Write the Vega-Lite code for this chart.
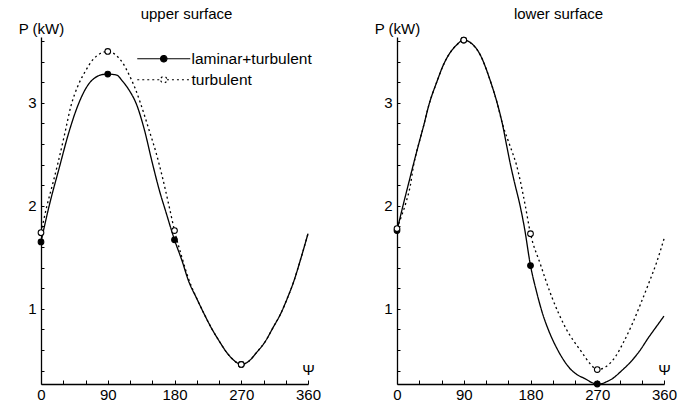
{
  "$schema": "https://vega.github.io/schema/vega-lite/v6.json",
  "background": "white",
  "padding": {"left": 18, "top": 7, "right": 5, "bottom": 5},
  "config": {
    "font": "Liberation Sans",
    "view": {"stroke": null},
    "concat": {"spacing": 53},
    "axis": {
      "domainColor": "black", "domainWidth": 1.3, "tickColor": "black", "tickWidth": 1,
      "labelColor": "black", "labelFontSize": 15, "labelFont": "Liberation Sans",
      "titleColor": "black", "titleFontSize": 15, "titleFontWeight": "normal", "titleFont": "Liberation Sans",
      "grid": false, "labelOverlap": false, "labelFlush": false
    },
    "title": {"fontSize": 15, "fontWeight": "normal", "font": "Liberation Sans", "color": "black", "anchor": "middle"}
  },
  "datasets": {
    "upper_curve": [
      {"psi": 0, "P": 1.65, "series": "laminar+turbulent"},
      {"psi": 11, "P": 2.0, "series": "laminar+turbulent"},
      {"psi": 25, "P": 2.38, "series": "laminar+turbulent"},
      {"psi": 37, "P": 2.7, "series": "laminar+turbulent"},
      {"psi": 50, "P": 2.98, "series": "laminar+turbulent"},
      {"psi": 63, "P": 3.17, "series": "laminar+turbulent"},
      {"psi": 74, "P": 3.25, "series": "laminar+turbulent"},
      {"psi": 80, "P": 3.27, "series": "laminar+turbulent"},
      {"psi": 90, "P": 3.28, "series": "laminar+turbulent"},
      {"psi": 102, "P": 3.27, "series": "laminar+turbulent"},
      {"psi": 110, "P": 3.21, "series": "laminar+turbulent"},
      {"psi": 120, "P": 3.11, "series": "laminar+turbulent"},
      {"psi": 128, "P": 3.0, "series": "laminar+turbulent"},
      {"psi": 139, "P": 2.75, "series": "laminar+turbulent"},
      {"psi": 150, "P": 2.42, "series": "laminar+turbulent"},
      {"psi": 160, "P": 2.14, "series": "laminar+turbulent"},
      {"psi": 168, "P": 1.95, "series": "laminar+turbulent"},
      {"psi": 180, "P": 1.67, "series": "laminar+turbulent"},
      {"psi": 190, "P": 1.47, "series": "laminar+turbulent"},
      {"psi": 199, "P": 1.27, "series": "laminar+turbulent"},
      {"psi": 210, "P": 1.1, "series": "laminar+turbulent"},
      {"psi": 220, "P": 0.95, "series": "laminar+turbulent"},
      {"psi": 230, "P": 0.81, "series": "laminar+turbulent"},
      {"psi": 240, "P": 0.69, "series": "laminar+turbulent"},
      {"psi": 250, "P": 0.58, "series": "laminar+turbulent"},
      {"psi": 260, "P": 0.5, "series": "laminar+turbulent"},
      {"psi": 270, "P": 0.46, "series": "laminar+turbulent"},
      {"psi": 280, "P": 0.49, "series": "laminar+turbulent"},
      {"psi": 290, "P": 0.57, "series": "laminar+turbulent"},
      {"psi": 303, "P": 0.69, "series": "laminar+turbulent"},
      {"psi": 313, "P": 0.82, "series": "laminar+turbulent"},
      {"psi": 323, "P": 0.95, "series": "laminar+turbulent"},
      {"psi": 332, "P": 1.1, "series": "laminar+turbulent"},
      {"psi": 341, "P": 1.27, "series": "laminar+turbulent"},
      {"psi": 350, "P": 1.48, "series": "laminar+turbulent"},
      {"psi": 360, "P": 1.73, "series": "laminar+turbulent"},
      {"psi": 0, "P": 1.74, "series": "turbulent"},
      {"psi": 8, "P": 2.0, "series": "turbulent"},
      {"psi": 16, "P": 2.22, "series": "turbulent"},
      {"psi": 23, "P": 2.42, "series": "turbulent"},
      {"psi": 32, "P": 2.7, "series": "turbulent"},
      {"psi": 40, "P": 2.96, "series": "turbulent"},
      {"psi": 50, "P": 3.17, "series": "turbulent"},
      {"psi": 60, "P": 3.31, "series": "turbulent"},
      {"psi": 70, "P": 3.42, "series": "turbulent"},
      {"psi": 80, "P": 3.48, "series": "turbulent"},
      {"psi": 90, "P": 3.5, "series": "turbulent"},
      {"psi": 100, "P": 3.47, "series": "turbulent"},
      {"psi": 110, "P": 3.39, "series": "turbulent"},
      {"psi": 119, "P": 3.27, "series": "turbulent"},
      {"psi": 127, "P": 3.14, "series": "turbulent"},
      {"psi": 134, "P": 3.0, "series": "turbulent"},
      {"psi": 146, "P": 2.73, "series": "turbulent"},
      {"psi": 155, "P": 2.52, "series": "turbulent"},
      {"psi": 163, "P": 2.3, "series": "turbulent"},
      {"psi": 172, "P": 2.02, "series": "turbulent"},
      {"psi": 180, "P": 1.76, "series": "turbulent"},
      {"psi": 190, "P": 1.5, "series": "turbulent"},
      {"psi": 199, "P": 1.29, "series": "turbulent"},
      {"psi": 210, "P": 1.1, "series": "turbulent"},
      {"psi": 220, "P": 0.95, "series": "turbulent"},
      {"psi": 230, "P": 0.81, "series": "turbulent"},
      {"psi": 240, "P": 0.69, "series": "turbulent"},
      {"psi": 250, "P": 0.58, "series": "turbulent"},
      {"psi": 260, "P": 0.5, "series": "turbulent"},
      {"psi": 270, "P": 0.46, "series": "turbulent"},
      {"psi": 280, "P": 0.49, "series": "turbulent"},
      {"psi": 290, "P": 0.57, "series": "turbulent"},
      {"psi": 303, "P": 0.69, "series": "turbulent"},
      {"psi": 313, "P": 0.82, "series": "turbulent"},
      {"psi": 323, "P": 0.95, "series": "turbulent"},
      {"psi": 332, "P": 1.1, "series": "turbulent"},
      {"psi": 341, "P": 1.27, "series": "turbulent"},
      {"psi": 350, "P": 1.48, "series": "turbulent"},
      {"psi": 360, "P": 1.73, "series": "turbulent"}
    ],
    "upper_pts": [
      {"psi": 0, "P": 1.65, "series": "laminar+turbulent"},
      {"psi": 90, "P": 3.28, "series": "laminar+turbulent"},
      {"psi": 180, "P": 1.67, "series": "laminar+turbulent"},
      {"psi": 270, "P": 0.46, "series": "laminar+turbulent"},
      {"psi": 0, "P": 1.74, "series": "turbulent"},
      {"psi": 90, "P": 3.5, "series": "turbulent"},
      {"psi": 180, "P": 1.76, "series": "turbulent"},
      {"psi": 270, "P": 0.46, "series": "turbulent"}
    ],
    "lower_curve": [
      {"psi": 0, "P": 1.76, "series": "laminar+turbulent"},
      {"psi": 8, "P": 2.0, "series": "laminar+turbulent"},
      {"psi": 15, "P": 2.2, "series": "laminar+turbulent"},
      {"psi": 22, "P": 2.4, "series": "laminar+turbulent"},
      {"psi": 30, "P": 2.62, "series": "laminar+turbulent"},
      {"psi": 36, "P": 2.78, "series": "laminar+turbulent"},
      {"psi": 43, "P": 2.98, "series": "laminar+turbulent"},
      {"psi": 54, "P": 3.21, "series": "laminar+turbulent"},
      {"psi": 62, "P": 3.36, "series": "laminar+turbulent"},
      {"psi": 70, "P": 3.47, "series": "laminar+turbulent"},
      {"psi": 80, "P": 3.56, "series": "laminar+turbulent"},
      {"psi": 90, "P": 3.61, "series": "laminar+turbulent"},
      {"psi": 100, "P": 3.58, "series": "laminar+turbulent"},
      {"psi": 112, "P": 3.47, "series": "laminar+turbulent"},
      {"psi": 126, "P": 3.21, "series": "laminar+turbulent"},
      {"psi": 135, "P": 3.0, "series": "laminar+turbulent"},
      {"psi": 142, "P": 2.8, "series": "laminar+turbulent"},
      {"psi": 148, "P": 2.58, "series": "laminar+turbulent"},
      {"psi": 153, "P": 2.4, "series": "laminar+turbulent"},
      {"psi": 158, "P": 2.24, "series": "laminar+turbulent"},
      {"psi": 166, "P": 2.0, "series": "laminar+turbulent"},
      {"psi": 172, "P": 1.78, "series": "laminar+turbulent"},
      {"psi": 180, "P": 1.42, "series": "laminar+turbulent"},
      {"psi": 188, "P": 1.17, "series": "laminar+turbulent"},
      {"psi": 196, "P": 0.96, "series": "laminar+turbulent"},
      {"psi": 205, "P": 0.78, "series": "laminar+turbulent"},
      {"psi": 216, "P": 0.61, "series": "laminar+turbulent"},
      {"psi": 224, "P": 0.51, "series": "laminar+turbulent"},
      {"psi": 232, "P": 0.43, "series": "laminar+turbulent"},
      {"psi": 243, "P": 0.36, "series": "laminar+turbulent"},
      {"psi": 254, "P": 0.32, "series": "laminar+turbulent"},
      {"psi": 264, "P": 0.28, "series": "laminar+turbulent"},
      {"psi": 274, "P": 0.27, "series": "laminar+turbulent"},
      {"psi": 282, "P": 0.29, "series": "laminar+turbulent"},
      {"psi": 290, "P": 0.32, "series": "laminar+turbulent"},
      {"psi": 303, "P": 0.4, "series": "laminar+turbulent"},
      {"psi": 317, "P": 0.5, "series": "laminar+turbulent"},
      {"psi": 328, "P": 0.6, "series": "laminar+turbulent"},
      {"psi": 339, "P": 0.72, "series": "laminar+turbulent"},
      {"psi": 347, "P": 0.8, "series": "laminar+turbulent"},
      {"psi": 353, "P": 0.86, "series": "laminar+turbulent"},
      {"psi": 360, "P": 0.93, "series": "laminar+turbulent"},
      {"psi": 0, "P": 1.78, "series": "turbulent"},
      {"psi": 6, "P": 1.9, "series": "turbulent"},
      {"psi": 12, "P": 2.03, "series": "turbulent"},
      {"psi": 18, "P": 2.2, "series": "turbulent"},
      {"psi": 22, "P": 2.38, "series": "turbulent"},
      {"psi": 30, "P": 2.62, "series": "turbulent"},
      {"psi": 36, "P": 2.78, "series": "turbulent"},
      {"psi": 43, "P": 2.98, "series": "turbulent"},
      {"psi": 54, "P": 3.21, "series": "turbulent"},
      {"psi": 62, "P": 3.36, "series": "turbulent"},
      {"psi": 70, "P": 3.47, "series": "turbulent"},
      {"psi": 80, "P": 3.56, "series": "turbulent"},
      {"psi": 90, "P": 3.61, "series": "turbulent"},
      {"psi": 100, "P": 3.58, "series": "turbulent"},
      {"psi": 112, "P": 3.47, "series": "turbulent"},
      {"psi": 126, "P": 3.21, "series": "turbulent"},
      {"psi": 135, "P": 3.0, "series": "turbulent"},
      {"psi": 142, "P": 2.8, "series": "turbulent"},
      {"psi": 150, "P": 2.63, "series": "turbulent"},
      {"psi": 156, "P": 2.51, "series": "turbulent"},
      {"psi": 161, "P": 2.4, "series": "turbulent"},
      {"psi": 166, "P": 2.25, "series": "turbulent"},
      {"psi": 173, "P": 2.0, "series": "turbulent"},
      {"psi": 180, "P": 1.73, "series": "turbulent"},
      {"psi": 193, "P": 1.44, "series": "turbulent"},
      {"psi": 209, "P": 1.11, "series": "turbulent"},
      {"psi": 227, "P": 0.82, "series": "turbulent"},
      {"psi": 249, "P": 0.58, "series": "turbulent"},
      {"psi": 260, "P": 0.47, "series": "turbulent"},
      {"psi": 270, "P": 0.41, "series": "turbulent"},
      {"psi": 282, "P": 0.44, "series": "turbulent"},
      {"psi": 294, "P": 0.53, "series": "turbulent"},
      {"psi": 305, "P": 0.67, "series": "turbulent"},
      {"psi": 317, "P": 0.85, "series": "turbulent"},
      {"psi": 328, "P": 1.04, "series": "turbulent"},
      {"psi": 339, "P": 1.24, "series": "turbulent"},
      {"psi": 350, "P": 1.45, "series": "turbulent"},
      {"psi": 360, "P": 1.68, "series": "turbulent"}
    ],
    "lower_pts": [
      {"psi": 0, "P": 1.76, "series": "laminar+turbulent"},
      {"psi": 90, "P": 3.61, "series": "laminar+turbulent"},
      {"psi": 180, "P": 1.42, "series": "laminar+turbulent"},
      {"psi": 270, "P": 0.27, "series": "laminar+turbulent"},
      {"psi": 0, "P": 1.78, "series": "turbulent"},
      {"psi": 90, "P": 3.61, "series": "turbulent"},
      {"psi": 180, "P": 1.73, "series": "turbulent"},
      {"psi": 270, "P": 0.41, "series": "turbulent"}
    ]
  },
  "resolve": {"scale": {"strokeDash": "independent"}, "legend": {"strokeDash": "independent"}},
  "hconcat": [
    {
      "width": 267, "height": 347,
      "title": {"text": "upper surface", "dx": 12, "offset": -1},
      "encoding": {
        "x": {"field": "psi", "type": "quantitative", "scale": {"domain": [0, 360], "nice": false},
          "axis": {"title": "Ψ", "values": [0,30,60,90,120,150,180,210,240,270,300,330,360],
            "labelExpr": "datum.value % 90 === 0 ? datum.label : ''", "labelOverlap": false, "tickSize": -4, "labelPadding": 7,
            "titleX": 267, "titleY": -10, "titleAlign": "center", "titleBaseline": "alphabetic"}},
        "y": {"field": "P", "type": "quantitative", "scale": {"domain": [0.27, 3.64], "nice": false, "zero": false},
          "axis": {"title": "P (kW)", "values": [0.4,0.6,0.8,1,1.2,1.4,1.6,1.8,2,2.2,2.4,2.6,2.8,3,3.2,3.4,3.6],
            "labelExpr": "datum.value === 1 ? '1' : datum.value === 2 ? '2' : datum.value === 3 ? '3' : ''",
            "labelOverlap": false, "tickSize": -3, "labelPadding": 8,
            "titleAngle": 0, "titleX": 0, "titleY": -4, "titleAlign": "center", "titleBaseline": "alphabetic"}}
      },
      "layer": [
        {
          "data": {"name": "upper_curve"},
          "mark": {"type": "line", "color": "black", "strokeWidth": 1.3, "interpolate": "monotone"},
          "encoding": {
            "strokeDash": {"field": "series", "type": "nominal",
              "scale": {"domain": ["laminar+turbulent", "turbulent"], "range": [[1, 0], [2, 3]]},
              "legend": {"title": null, "orient": "none", "legendX": 115, "legendY": 14,
                "symbolType": "M-5.3,0H-0.64A0.64,0.64 0 1,1 0.64,0A0.64,0.64 0 1,1 -0.64,0M0.64,0H5.3",
                "symbolSize": 100, "symbolStrokeColor": "black", "symbolStrokeWidth": 1.2,
                "labelFontSize": 15.5, "labelColor": "black", "labelFont": "Liberation Sans", "labelOffset": 20,
                "rowPadding": 4,
                "encode": {"symbols": {"update": {
                  "fill": {"signal": "datum.value === 'turbulent' ? 'white' : 'black'"},
                  "stroke": {"value": "black"}, "strokeWidth": {"value": 1.2}, "opacity": {"value": 1}}}}}}
          }
        },
        {
          "data": {"name": "upper_pts"},
          "mark": {"type": "point", "filled": true, "stroke": "black", "strokeWidth": 1.1, "size": 32, "opacity": 1},
          "encoding": {
            "fill": {"field": "series", "type": "nominal", "scale": {"domain": ["laminar+turbulent", "turbulent"], "range": ["black", "white"]}, "legend": null},
            "order": {"field": "series", "type": "nominal"}
          }
        }
      ]
    },
    {
      "width": 267, "height": 347,
      "title": {"text": "lower surface", "dx": 28, "offset": -1},
      "encoding": {
        "x": {"field": "psi", "type": "quantitative", "scale": {"domain": [0, 360], "nice": false},
          "axis": {"title": "Ψ", "values": [0,30,60,90,120,150,180,210,240,270,300,330,360],
            "labelExpr": "datum.value % 90 === 0 ? datum.label : ''", "labelOverlap": false, "tickSize": -4, "labelPadding": 7,
            "titleX": 267, "titleY": -10, "titleAlign": "center", "titleBaseline": "alphabetic"}},
        "y": {"field": "P", "type": "quantitative", "scale": {"domain": [0.27, 3.64], "nice": false, "zero": false},
          "axis": {"title": "P (kW)", "values": [0.4,0.6,0.8,1,1.2,1.4,1.6,1.8,2,2.2,2.4,2.6,2.8,3,3.2,3.4,3.6],
            "labelExpr": "datum.value === 1 ? '1' : datum.value === 2 ? '2' : datum.value === 3 ? '3' : ''",
            "labelOverlap": false, "tickSize": -3, "labelPadding": 8,
            "titleAngle": 0, "titleX": 0, "titleY": -4, "titleAlign": "center", "titleBaseline": "alphabetic"}}
      },
      "layer": [
        {
          "data": {"name": "lower_curve"},
          "mark": {"type": "line", "color": "black", "strokeWidth": 1.3, "interpolate": "monotone"},
          "encoding": {
            "strokeDash": {"field": "series", "type": "nominal",
              "scale": {"domain": ["laminar+turbulent", "turbulent"], "range": [[1, 0], [2, 3]]},
              "legend": null}
          }
        },
        {
          "data": {"name": "lower_pts"},
          "mark": {"type": "point", "filled": true, "stroke": "black", "strokeWidth": 1.1, "size": 32, "opacity": 1},
          "encoding": {
            "fill": {"field": "series", "type": "nominal", "scale": {"domain": ["laminar+turbulent", "turbulent"], "range": ["black", "white"]}, "legend": null},
            "order": {"field": "series", "type": "nominal"}
          }
        }
      ]
    }
  ]
}
